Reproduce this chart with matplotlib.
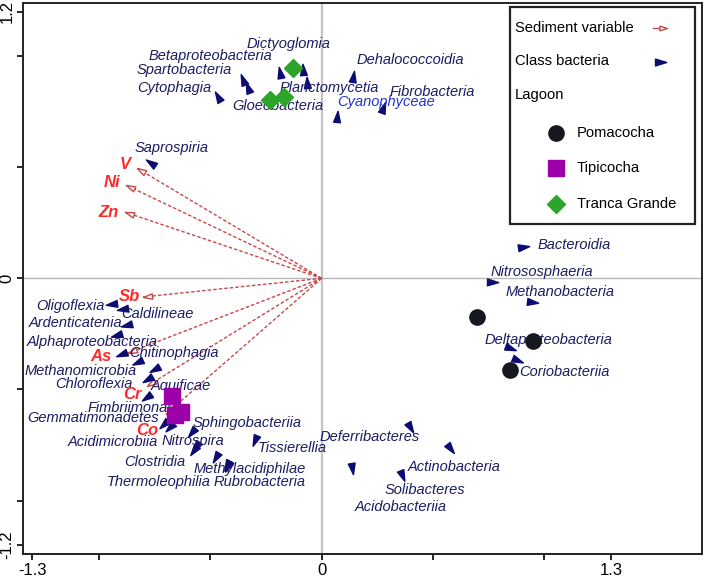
import numpy as np
import matplotlib
matplotlib.use('Agg')
import matplotlib.pyplot as plt
from matplotlib.markers import MarkerStyle
from matplotlib.path import Path
from matplotlib.transforms import Affine2D
from matplotlib.patches import Rectangle

# ── Data ─────────────────────────────────────────────────────
class_names = [
    "Betaproteobacteria", "Spartobacteria", "Cytophagia", "Dictyoglomia",
    "Planctomycetia", "Gloeobacteria", "Dehalococcoidia", "Cyanophyceae",
    "Fibrobacteria", "Saprospiria", "Oligoflexia", "Caldilineae",
    "Ardenticatenia", "Alphaproteobacteria", "Chitinophagia", "Methanomicrobia",
    "Chloroflexia", "Aquificae", "Fimbriimonadia", "Gemmatimonadetes",
    "Acidimicrobiia", "Sphingobacteriia", "Nitrospira", "Clostridia",
    "Thermoleophilia", "Methylacidiphilae", "Rubrobacteria", "Tissierellia",
    "Deferribacteres", "Actinobacteria", "Solibacteres", "Acidobacteriia",
    "Bacteroidia", "Nitrososphaeria", "Methanobacteria", "Deltaproteobacteria",
    "Coriobacteriia",
]
class_x = [-0.332, -0.354, -0.466, -0.187, -0.084, -0.066, 0.141, 0.069,
           0.276, -0.767, -0.942, -0.893, -0.876, -0.920, -0.898, -0.826,
           -0.781, -0.749, -0.785, -0.709, -0.682, -0.583, -0.565, -0.574,
           -0.475, -0.426, -0.421, -0.300, 0.397, 0.577, 0.360, 0.136,
           0.905, 0.765, 0.945, 0.846, 0.878]
class_y = [0.856, 0.892, 0.816, 0.924, 0.939, 0.880, 0.906, 0.726,
           0.766, 0.519, -0.115, -0.138, -0.210, -0.255, -0.341, -0.377,
           -0.453, -0.408, -0.534, -0.656, -0.670, -0.692, -0.755, -0.773,
           -0.805, -0.840, -0.845, -0.728, -0.669, -0.764, -0.885, -0.854,
           0.141, -0.016, -0.107, -0.314, -0.368]

sed_names = ["V", "Ni", "Zn", "Sb", "As", "Cr", "Co"]
sed_x = [-0.830, -0.880, -0.884, -0.803, -0.870, -0.785, -0.700]
sed_y = [0.496, 0.420, 0.298, -0.084, -0.336, -0.485, -0.611]

pomacocha_x = [0.698, 0.950, 0.846]
pomacocha_y = [-0.176, -0.282, -0.413]
tipicocha_x = [-0.673, -0.632, -0.659]
tipicocha_y = [-0.530, -0.602, -0.615]
tranca_x = [-0.129, -0.232, -0.169]
tranca_y = [0.947, 0.802, 0.816]

# label placement (centre of each text)
class_lab_x = [-0.502, -0.619, -0.664, -0.151, 0.033, -0.196, 0.397, 0.289,
               0.495, -0.673, -1.131, -0.740, -1.104, -1.032, -0.664, -1.082,
               -1.023, -0.632, -0.826, -1.027, -0.937, -0.336, -0.579, -0.749,
               -0.731, -0.322, -0.277, -0.134, 0.217, 0.595, 0.464, 0.356,
               1.134, 0.990, 1.071, 1.021, 1.093]
class_lab_y = [1.001, 0.937, 0.856, 1.055, 0.856, 0.775, 0.981, 0.793,
               0.838, 0.586, -0.125, -0.161, -0.201, -0.287, -0.336, -0.417,
               -0.476, -0.485, -0.584, -0.629, -0.737, -0.651, -0.732, -0.827,
               -0.917, -0.858, -0.917, -0.764, -0.714, -0.849, -0.953, -1.029,
               0.150, 0.028, -0.062, -0.278, -0.422]
sed_lab_x = [-0.883, -0.942, -0.956, -0.862, -0.992, -0.848, -0.785]
sed_lab_y = [0.510, 0.433, 0.298, -0.080, -0.354, -0.525, -0.683]

NAVY = "#0c0c72"
TXT = "#1c1c62"
ARROW = "#c84848"
RED = "#ff2a2a"

plt.rcParams['font.family'] = ['Liberation Sans', 'DejaVu Sans']

head_path = Path([(1, 0), (-0.8, 0.55), (-0.8, -0.55), (1, 0)],
                 [Path.MOVETO, Path.LINETO, Path.LINETO, Path.CLOSEPOLY])
hollow_path = Path([(0, 0), (-2, 0.6), (-2, -0.6), (0, 0)],
                   [Path.MOVETO, Path.LINETO, Path.LINETO, Path.CLOSEPOLY])


def rotated(path, angle):
    return MarkerStyle(path, transform=Affine2D().rotate_deg(angle))


fig = plt.figure(figsize=(7.08, 5.77), dpi=100)
ax = fig.add_axes([0.0325, 0.0393, 0.9586, 0.9555])
ax.set_xlim(-1.342, 1.708)
ax.set_ylim(-1.242, 1.239)

ax.axvline(0, color="#c4c4c4", lw=1.6, zorder=0)
ax.axhline(0, color="#b8b8b8", lw=1.0, zorder=0)

# ── Sediment arrows ──────────────────────────────────────────
for name, x, y, lx, ly in zip(sed_names, sed_x, sed_y, sed_lab_x, sed_lab_y):
    ax.plot([0, x], [0, y], color=ARROW, lw=1.0, ls=(0, (2.5, 1.5)), zorder=2)
    ang = np.degrees(np.arctan2(y, x))
    ax.plot(x, y, marker=rotated(hollow_path, ang), ms=13, mfc="white",
            mec=ARROW, mew=1.0, ls="none", zorder=3)
    ax.text(lx, ly, name, color=RED, fontsize=12, fontweight="bold",
            style="italic", ha="center", va="center", zorder=6)

# ── Class bacteria ───────────────────────────────────────────
for name, x, y, lx, ly in zip(class_names, class_x, class_y, class_lab_x, class_lab_y):
    ang = np.degrees(np.arctan2(y, x))
    ax.plot(x, y, marker=rotated(head_path, ang), ms=9, color=NAVY,
            ls="none", zorder=4)
    col = "#2233cc" if name == "Cyanophyceae" else TXT
    ax.text(lx, ly, name, color=col, fontsize=10.5, style="italic",
            ha="center", va="center", zorder=5)

# ── Lagoon samples ───────────────────────────────────────────
ax.plot(pomacocha_x, pomacocha_y, "o", color="#15181f", ms=11, ls="none", zorder=7)
ax.plot(tipicocha_x, tipicocha_y, "s", color="#9c00a8", ms=11, ls="none", zorder=7)
ax.plot(tranca_x, tranca_y, "D", color="#2ea42a", ms=9.5, ls="none", zorder=7)

# ── Axes ─────────────────────────────────────────────────────
ax.set_xticks([-1.3, -1.0, -0.5, 0, 0.5, 1.0, 1.3])
ax.set_xticklabels(["-1.3", "", "", "0", "", "", "1.3"])
ax.set_yticks([-1.2, -1.0, -0.5, 0, 0.5, 1.0, 1.2])
ax.set_yticklabels(["-1.2", "", "", "0", "", "", "1.2"], rotation=90, va="center")
ax.tick_params(direction="out", length=4, width=1.2, labelsize=12, pad=2)
for s in ax.spines.values():
    s.set_linewidth(1.4)
    s.set_color("#222222")

# ── Legend (drawn by hand) ───────────────────────────────────
T = ax.transAxes
ax.add_patch(Rectangle((0.7176, 0.599), 0.2724, 0.3937, transform=T,
                       fill=True, fc="white", ec="#222222", lw=1.6, zorder=10))
ax.text(0.725, 0.955, "Sediment variable", transform=T, fontsize=10.6,
        va="center", zorder=11)
ax.plot([0.928, 0.946], [0.955, 0.955], transform=T, color=ARROW, lw=1.0, zorder=11)
ax.plot(0.949, 0.955, transform=T, marker=rotated(hollow_path, 0), ms=11,
        mfc="white", mec=ARROW, mew=1.0, zorder=12)
ax.text(0.725, 0.895, "Class bacteria", transform=T, fontsize=10.6,
        va="center", zorder=11)
ax.plot(0.9386, 0.893, transform=T, marker=rotated(head_path, 0), ms=9,
        color=NAVY, zorder=11)
ax.text(0.725, 0.833, "Lagoon", transform=T, fontsize=10.6, va="center", zorder=11)
for yy, lab, mk, col, ms in [(0.764, "Pomacocha", "o", "#15181f", 11),
                             (0.701, "Tipicocha", "s", "#9c00a8", 11),
                             (0.636, "Tranca Grande", "D", "#2ea42a", 9.5)]:
    ax.plot(0.785, yy, transform=T, marker=mk, color=col, ms=ms, zorder=11)
    ax.text(0.816, yy, lab, transform=T, fontsize=10.6, va="center", zorder=11)

fig.savefig("out.png", dpi=100)
